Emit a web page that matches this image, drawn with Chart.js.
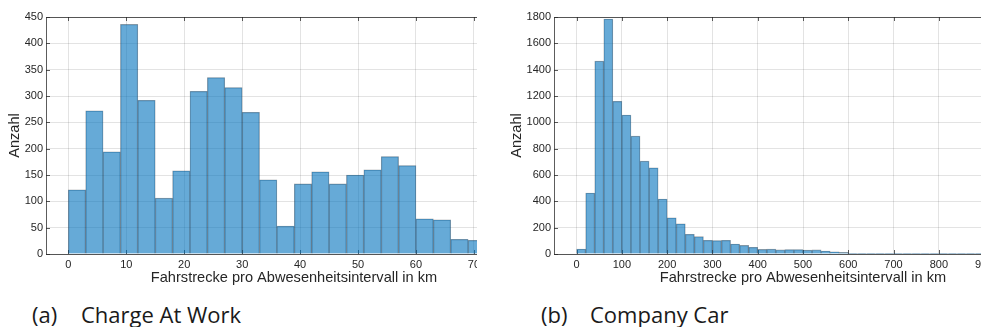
<!DOCTYPE html>
<html>
<head>
<meta charset="utf-8">
<script src="https://cdn.jsdelivr.net/npm/chart.js@4/dist/chart.umd.min.js"></script>
<style>
  html, body { margin: 0; padding: 0; background: #fff; overflow: hidden; }
  body { width: 981px; height: 327px; position: relative; }
  .clip { position: absolute; top: 0; height: 295px; overflow: hidden; }
  .cap { position: absolute; font-family: "Open Sans", sans-serif; font-size: 22px; line-height: 22px; color: #1a1a1a; white-space: nowrap; }
</style>
</head>
<body>
<div class="clip" style="left:0;width:477px"><canvas id="workChart" width="560" height="292"></canvas></div>
<div class="clip" style="left:490px;width:491px"><canvas id="carChart" width="580" height="292"></canvas></div>

<span class="cap" style="left:32px;top:303px">(a)</span>
<span class="cap" style="left:81px;top:303px">Charge At Work</span>
<span class="cap" style="left:541px;top:303px">(b)</span>
<span class="cap" style="left:590px;top:303px">Company Car</span>

<script>
// (a) Charge At Work - bins of 3 km (left edges) and counts
const workBins = [0, 3, 6, 9, 12, 15, 18, 21, 24, 27, 30, 33, 36, 39, 42, 45, 48, 51, 54, 57, 60, 63, 66, 69];
const workCounts = [122, 272, 194, 436, 292, 106, 158, 309, 335, 316, 269, 141, 53, 133, 156, 133, 150, 160, 185, 168, 67, 65, 28, 26];
const workBinWidth = 3;
const workXTicks = [0, 10, 20, 30, 40, 50, 60, 70, 80];
const workYTicks = [0, 50, 100, 150, 200, 250, 300, 350, 400, 450];

// (b) Company Car - bins of 20 km (left edges) and counts
const carBins = [0, 20, 40, 60, 80, 100, 120, 140, 160, 180, 200, 220, 240, 260, 280, 300, 320, 340, 360, 380,
  400, 420, 440, 460, 480, 500, 520, 540, 560, 580, 600, 620, 640, 660, 680, 700, 720, 740, 760, 780,
  800, 820, 840, 860, 880];
const carCounts = [38, 463, 1465, 1785, 1160, 1055, 895, 705, 655, 417, 275, 229, 150, 132, 104, 102, 104, 76, 65, 51,
  35, 37, 31, 34, 34, 29, 31, 23, 17, 12, 6, 6, 3, 3, 3, 6, 3, 2, 2, 5,
  6, 3, 2, 2, 2];
const carBinWidth = 20;
const carXTicks = [0, 100, 200, 300, 400, 500, 600, 700, 800, 900, 1000];
const carYTicks = [0, 200, 400, 600, 800, 1000, 1200, 1400, 1600, 1800];

const xTitle = "Fahrstrecke pro Abwesenheitsintervall in km";
const yTitle = "Anzahl";

const barFill = "rgba(0, 114, 189, 0.6)";
const barEdge = "rgba(30, 40, 50, 0.45)";
const axisColor = "rgba(38, 38, 38, 0.75)";
const gridColor = "rgba(38, 38, 38, 0.13)";
const tickFont = { family: "'Liberation Sans', Arial, Helvetica, sans-serif", size: 11 };
const titleFont = { family: "'Liberation Sans', Arial, Helvetica, sans-serif", size: 14.6 };

// matlab-ish box with inward tick marks
const boxPlugin = {
  id: "box",
  beforeDatasetsDraw(chart) {
    const { ctx, chartArea: a, scales: { x, y } } = chart;
    const tl = 4;
    ctx.save();
    ctx.strokeStyle = axisColor;
    ctx.lineWidth = 1;
    ctx.strokeRect(Math.round(a.left) + 0.5, Math.round(a.top) + 0.5,
      Math.round(a.right - a.left), Math.round(a.bottom - a.top));
    ctx.beginPath();
    x.ticks.forEach(t => {
      const px = Math.round(x.getPixelForValue(t.value)) + 0.5;
      ctx.moveTo(px, a.top); ctx.lineTo(px, a.top + tl);
      ctx.moveTo(px, a.bottom); ctx.lineTo(px, a.bottom - tl);
    });
    y.ticks.forEach(t => {
      const py = Math.round(y.getPixelForValue(t.value)) + 0.5;
      ctx.moveTo(a.left, py); ctx.lineTo(a.left + tl, py);
      ctx.moveTo(a.right, py); ctx.lineTo(a.right - tl, py);
    });
    ctx.stroke();
    ctx.restore();
  }
};

function makeHist(canvasId, bins, counts, width, xTicks, yTicks, xRange, yMax, yWidth, yTitlePad) {
  const points = bins.map((b, i) => ({ x: b + width / 2, y: counts[i] }));
  return new Chart(document.getElementById(canvasId), {
    type: "bar",
    data: {
      datasets: [{
        data: points,
        backgroundColor: barFill,
        borderColor: barEdge,
        borderWidth: 0.6,
        barPercentage: 1,
        categoryPercentage: 1
      }]
    },
    options: {
      responsive: false,
      animation: false,
      layout: { padding: { left: 0, right: 18, top: 17, bottom: 0 } },
      plugins: { legend: { display: false }, tooltip: { enabled: false } },
      scales: {
        x: {
          type: "linear",
          offset: false,
          min: xRange[0],
          max: xRange[1],
          afterBuildTicks: s => { s.ticks = xTicks.map(v => ({ value: v })); },
          afterFit: s => { s.height = 292 - 254; },
          grid: { color: gridColor, drawTicks: false, offset: false },
          border: { display: false },
          ticks: { font: tickFont, color: "#262626", padding: 4, maxRotation: 0, autoSkip: false, callback: v => String(v) },
          title: { display: true, text: xTitle, font: titleFont, color: "#262626", padding: { top: 0, bottom: 5 } }
        },
        y: {
          min: 0,
          max: yMax,
          afterBuildTicks: s => { s.ticks = yTicks.map(v => ({ value: v })); },
          afterFit: s => { s.width = yWidth; },
          grid: { color: gridColor, drawTicks: false },
          border: { display: false },
          ticks: { font: tickFont, color: "#262626", padding: 3, callback: v => String(v) },
          title: { display: true, text: yTitle, font: titleFont, color: "#262626", padding: { top: yTitlePad, bottom: 0 } }
        }
      }
    },
    plugins: [boxPlugin]
  });
}

makeHist("workChart", workBins, workCounts, workBinWidth, workXTicks, workYTicks, [-3.85, 81.75], 450, 46, 6);
makeHist("carChart", carBins, carCounts, carBinWidth, carXTicks, carYTicks, [-50, 1050], 1800, 64, 18);
</script>
</body>
</html>
